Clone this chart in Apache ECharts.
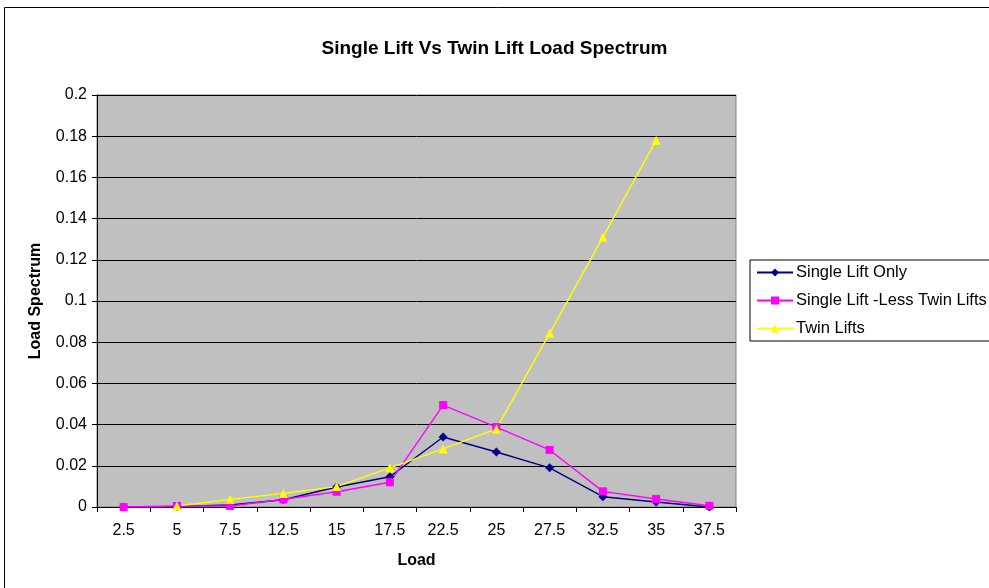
<!DOCTYPE html>
<html>
<head>
<meta charset="utf-8">
<script src="https://cdn.jsdelivr.net/npm/echarts@6/dist/echarts.min.js"></script>
<style>
  html, body { margin: 0; padding: 0; background: #fff; }
  #chart { width: 989px; height: 588px; }
</style>
</head>
<body>
<div id="chart"></div>
<script>
// Load classes (tonnes) along the x axis
const loads = ['2.5', '5', '7.5', '12.5', '15', '17.5', '22.5', '25', '27.5', '32.5', '35', '37.5'];

// Load spectrum fractions per load class
const singleLiftOnly = [0, 0.0003, 0.001, 0.0035, 0.0097, 0.0147, 0.034, 0.0267, 0.019, 0.005, 0.0024, 0];
const singleLessTwin = [0, 0.0005, 0.0005, 0.0037, 0.0074, 0.012, 0.0495, 0.0388, 0.0277, 0.0076, 0.0039, 0.0006];
const twinLifts = [null, 0.0005, 0.0037, 0.0066, 0.0099, 0.019, 0.0282, 0.0379, 0.0843, 0.131, 0.178, null];

const seriesNames = ['Single Lift Only', 'Single Lift -Less Twin Lifts', 'Twin Lifts'];

const FONT = 'Liberation Sans, Arial, sans-serif';

const chart = echarts.init(document.getElementById('chart'), null, { renderer: 'canvas' });

function lineSeries(name, data, color, symbol, size) {
  return {
    name: name,
    type: 'line',
    data: data,
    symbol: symbol,
    symbolSize: size,
    showSymbol: true,
    connectNulls: false,
    lineStyle: { color: color, width: 1.4 },
    itemStyle: { color: color },
    emphasis: { disabled: true },
    animation: false
  };
}

chart.setOption({
  animation: false,
  backgroundColor: '#ffffff',
  title: {
    text: 'Single Lift Vs Twin Lift Load Spectrum',
    left: 'center',
    top: 34,
    textStyle: { fontFamily: FONT, fontSize: 19, fontWeight: 'bold', color: '#000' }
  },
  graphic: [{
    type: 'rect',
    shape: { x: 4.5, y: 7.5, width: 1000, height: 600 },
    style: { fill: 'none', stroke: '#000', lineWidth: 1 },
    silent: true,
    z: -1
  }],
  legend: {
    orient: 'vertical',
    left: 750,
    top: 260,
    data: seriesNames,
    itemWidth: 36,
    itemHeight: 10,
    itemGap: 11,
    padding: [4, 4, 4, 6],
    borderColor: '#000',
    borderWidth: 1,
    backgroundColor: '#fff',
    textStyle: { fontFamily: FONT, fontSize: 16.5, color: '#000', padding: [0, 0, 0, -2] }
  },
  grid: {
    left: 97,
    right: 253,
    top: 95,
    bottom: 81,
    show: true,
    backgroundColor: '#c0c0c0',
    borderColor: '#808080',
    borderWidth: 1
  },
  xAxis: {
    type: 'category',
    data: loads,
    boundaryGap: true,
    name: 'Load',
    nameLocation: 'middle',
    nameGap: 46,
    nameTextStyle: { fontFamily: FONT, fontSize: 16, fontWeight: 'bold', color: '#000' },
    axisLine: { lineStyle: { color: '#000', width: 1 } },
    axisTick: { show: true, length: 5, inside: false, lineStyle: { color: '#000' } },
    axisLabel: { fontFamily: FONT, fontSize: 16, color: '#000', margin: 16 },
    splitLine: { show: false }
  },
  yAxis: {
    type: 'value',
    min: 0,
    max: 0.2,
    interval: 0.02,
    name: 'Load Spectrum',
    nameLocation: 'middle',
    nameGap: 53,
    nameRotate: 90,
    nameTextStyle: { fontFamily: FONT, fontSize: 16, fontWeight: 'bold', color: '#000' },
    axisLine: { show: true, lineStyle: { color: '#000', width: 1 } },
    axisTick: { show: true, length: 5, inside: false, lineStyle: { color: '#000' } },
    axisLabel: {
      fontFamily: FONT, fontSize: 16, color: '#000', margin: 10,
      formatter: v => String(+v.toFixed(2))
    },
    splitLine: { show: true, lineStyle: { color: '#000', width: 1 } }
  },
  series: [
    lineSeries(seriesNames[0], singleLiftOnly, '#000080', 'diamond', 9),
    lineSeries(seriesNames[1], singleLessTwin, '#ff00ff', 'rect', 8),
    lineSeries(seriesNames[2], twinLifts, '#ffff00', 'triangle', 9)
  ]
});
</script>
</body>
</html>
